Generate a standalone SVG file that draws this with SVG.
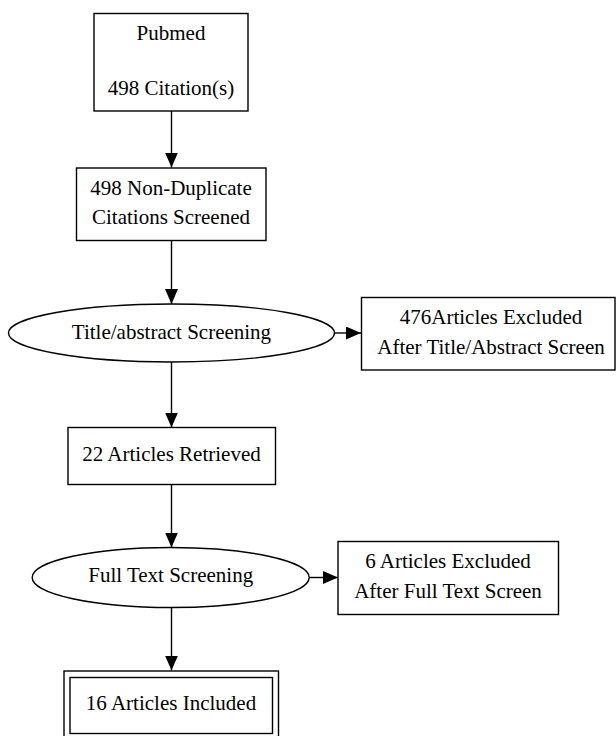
<svg xmlns="http://www.w3.org/2000/svg" width="616" height="736" viewBox="0 0 616 736">
<defs>
<marker id="ah" markerUnits="userSpaceOnUse" markerWidth="16" markerHeight="14" refX="15" refY="6.5" orient="auto">
<path d="M0,0 L15,6.5 L0,13 Z" fill="#000"/>
</marker>
</defs>
<style>
.n{fill:#fff;stroke:#000;stroke-width:1.4}
.t{font-family:"Liberation Serif","Times New Roman",serif;font-size:21px;fill:#000;text-anchor:middle}
.e{fill:none;stroke:#000;stroke-width:1.4}
</style>
<rect width="616" height="736" fill="#fff"/>
<g id="connectors">
<line class="e" x1="171.5" y1="111" x2="171.5" y2="167.5" marker-end="url(#ah)"/>
<line class="e" x1="171.5" y1="240.5" x2="171.5" y2="304" marker-end="url(#ah)"/>
<line class="e" x1="334.5" y1="333" x2="361" y2="333" marker-end="url(#ah)"/>
<line class="e" x1="171.5" y1="362" x2="171.5" y2="427.5" marker-end="url(#ah)"/>
<line class="e" x1="171.5" y1="484.5" x2="171.5" y2="547.5" marker-end="url(#ah)"/>
<line class="e" x1="309" y1="577.5" x2="338" y2="577.5" marker-end="url(#ah)"/>
<line class="e" x1="171.5" y1="607.5" x2="171.5" y2="670.5" marker-end="url(#ah)"/>
</g>
<g id="pubmed">
<rect class="n" x="94" y="13.5" width="154" height="97.5"/>
<text class="t" x="171" y="39.5">Pubmed</text>
<text class="t" x="171" y="95">498 Citation(s)</text>
</g>
<g id="nondup">
<rect class="n" x="76.5" y="168" width="189.5" height="72.5"/>
<text class="t" x="171" y="194.5">498 Non-Duplicate</text>
<text class="t" x="171" y="223.5">Citations Screened</text>
</g>
<g id="tascreen">
<ellipse class="n" cx="171.5" cy="333" rx="163" ry="29"/>
<text class="t" x="171.5" y="338.5">Title/abstract Screening</text>
</g>
<g id="excl1">
<rect class="n" x="361.5" y="297.5" width="253.5" height="72.5"/>
<text class="t" x="491" y="323.5">476Articles Excluded</text>
<text class="t" x="491" y="353.5">After Title/Abstract Screen</text>
</g>
<g id="retrieved">
<rect class="n" x="68" y="427.5" width="207.5" height="57"/>
<text class="t" x="171.5" y="461">22 Articles Retrieved</text>
</g>
<g id="ftscreen">
<ellipse class="n" cx="170.7" cy="577.5" rx="138.5" ry="30"/>
<text class="t" x="170.7" y="582">Full Text Screening</text>
</g>
<g id="excl2">
<rect class="n" x="338" y="541.5" width="220.5" height="73"/>
<text class="t" x="448" y="568">6 Articles Excluded</text>
<text class="t" x="448" y="597.5">After Full Text Screen</text>
</g>
<g id="included">
<rect class="n" x="64" y="671" width="214.5" height="72"/>
<rect class="n" x="70" y="677.5" width="202.5" height="56"/>
<text class="t" x="171" y="710">16 Articles Included</text>
</g>
</svg>
